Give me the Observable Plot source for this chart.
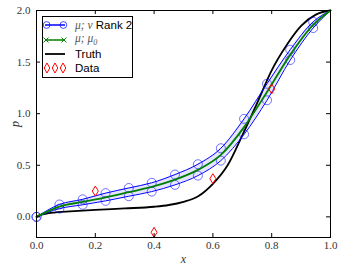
<!DOCTYPE html>
<html><head><meta charset="utf-8">
<script src="https://cdn.jsdelivr.net/npm/d3@7"></script>
<script src="https://cdn.jsdelivr.net/npm/@observablehq/plot@0.6"></script>
<style>
body{margin:0;background:#fff}
#wrap{position:relative;width:341px;height:270px}
#legend{position:absolute;left:42px;top:16px;width:91px;height:62px;border:1px solid #000;background:#fff;box-sizing:border-box;font-family:"Liberation Sans",Arial,sans-serif;font-size:11.5px;color:#000}
.row{position:absolute;left:0;height:14px;display:flex;align-items:center}
.row svg{margin-left:0}
.row span.t{margin-left:6px;white-space:nowrap}
.m{font-family:"Liberation Serif",serif;font-style:italic;color:#555}
</style>
</head><body><div id="wrap"></div>
<script>
// marker positions for the rank-2 band and mean
const xs = [0, 0.078, 0.157, 0.235, 0.314, 0.392, 0.471, 0.549, 0.627, 0.706, 0.784, 0.863, 0.941, 1.0];
const upper = [0, 0.12, 0.17, 0.23, 0.28, 0.33, 0.41, 0.51, 0.665, 0.95, 1.29, 1.62, 1.89, 2.0];
const lower = [0, 0.08, 0.117, 0.155, 0.20, 0.245, 0.31, 0.40, 0.545, 0.80, 1.13, 1.52, 1.83, 2.0];
const mean  = [0, 0.10, 0.145, 0.19, 0.24, 0.29, 0.36, 0.455, 0.60, 0.87, 1.21, 1.57, 1.86, 2.0];
// truth curve
const truthX = [0, 0.01, 0.03, 0.06, 0.1, 0.2, 0.3, 0.4, 0.45, 0.5, 0.55, 0.6, 0.65, 0.7, 0.75, 0.8, 0.85, 0.9, 0.95, 1.0];
const truthP = [0, 0.015, 0.03, 0.042, 0.05, 0.068, 0.082, 0.098, 0.115, 0.146, 0.2, 0.32, 0.5, 0.79, 1.1, 1.42, 1.66, 1.85, 1.96, 2.0];
// observed data
const dataX = [0.2, 0.4, 0.6, 0.8];
const dataP = [0.25, -0.15, 0.37, 1.24];
// ticks
const xTicks = [0.0, 0.2, 0.4, 0.6, 0.8, 1.0];
const yTicks = [0.0, 0.5, 1.0, 1.5, 2.0];

const band = xs.map((x, i) => ({x, lo: lower[i], hi: upper[i], m: mean[i]}));
const markers = band.slice(0, 13);
const truth = truthX.map((x, i) => ({x, p: truthP[i]}));
const obs = dataX.map((x, i) => ({x, p: dataP[i]}));

const thinDiamond = {draw(ctx, size) {
  const h = Math.sqrt(size / Math.PI), w = h * 0.6;
  ctx.moveTo(0, -h); ctx.lineTo(w, 0); ctx.lineTo(0, h); ctx.lineTo(-w, 0); ctx.closePath();
}};

const W = 341, H = 270, mL = 36, mR = 11, mT = 10, mB = 33;
const fw = W - mL - mR, fh = H - mT - mB;
const curve = "monotone-x";
const blue = "#0000ff";

const svg = Plot.plot({
  width: W, height: H,
  marginLeft: mL, marginRight: mR, marginTop: mT, marginBottom: mB,
  style: {fontFamily: "'Liberation Serif', serif", fontSize: "11px", color: "#000", background: "#fff"},
  x: {domain: [0, 1]},
  y: {domain: [-0.2, 2.0]},
  marks: [
    Plot.areaY(band, {x: "x", y1: "lo", y2: "hi", fill: blue, fillOpacity: 0.1, curve}),
    Plot.line(truth, {x: "x", y: "p", stroke: "#000", strokeWidth: 1.8, curve}),
    Plot.line(band, {x: "x", y: "hi", stroke: blue, strokeWidth: 1, curve}),
    Plot.line(band, {x: "x", y: "lo", stroke: blue, strokeWidth: 1, curve}),
    Plot.dot(markers, {x: "x", y: "hi", r: 4.5, stroke: blue, strokeOpacity: 0.55, strokeWidth: 1, fill: "none"}),
    Plot.dot(markers, {x: "x", y: "lo", r: 4.5, stroke: blue, strokeOpacity: 0.55, strokeWidth: 1, fill: "none"}),
    Plot.line(band, {x: "x", y: "m", stroke: "#008000", strokeWidth: 1.8, curve}),
    Plot.dot(obs, {x: "x", y: "p", r: 5, symbol: thinDiamond, stroke: "#ff0000", strokeWidth: 1, fill: "none"}),
    Plot.frame({stroke: "#000", strokeWidth: 1}),
    Plot.tickX(xTicks, {x: d => d, stroke: "#000", insetTop: fh - 4}),
    Plot.tickX(xTicks, {x: d => d, stroke: "#000", insetBottom: fh - 4}),
    Plot.tickY(yTicks, {y: d => d, stroke: "#000", insetRight: fw - 4}),
    Plot.tickY(yTicks, {y: d => d, stroke: "#000", insetLeft: fw - 4}),
    Plot.axisX({ticks: xTicks, tickSize: 0, tickPadding: 4, tickFormat: d3.format(".1f"), label: "x", labelAnchor: "center", labelArrow: "none", labelOffset: 25, fill: "#333"}),
    Plot.axisY({ticks: yTicks, tickSize: 0, tickPadding: 6, tickFormat: d3.format(".1f"), label: "p", labelAnchor: "center", labelArrow: "none", labelOffset: 26, fill: "#333"})
  ]
});
d3.select(svg).selectAll('[aria-label="x-axis label"] text, [aria-label="y-axis label"] text').style("font-style", "italic").style("font-size", "12px");

const wrap = document.getElementById("wrap");
wrap.appendChild(svg);

const legend = document.createElement("div");
legend.id = "legend";
const sw = (inner) => `<svg width="26" height="14" viewBox="0 0 26 14">${inner}</svg>`;
legend.innerHTML = `
<div class="row" style="top:1px">${sw(`<line x1="2" y1="7" x2="22" y2="7" stroke="${blue}" stroke-width="1.5"/><circle cx="3.6" cy="7" r="3.4" fill="none" stroke="${blue}" stroke-opacity="0.7"/><circle cx="20.4" cy="7" r="3.4" fill="none" stroke="${blue}" stroke-opacity="0.7"/>`)}<span class="t"><span class="m">μ; ν</span> Rank 2</span></div>
<div class="row" style="top:15.5px">${sw(`<line x1="2" y1="7" x2="22" y2="7" stroke="#008000" stroke-width="1.5"/><path d="M0.5,4.5L5.5,9.5M5.5,4.5L0.5,9.5M18.5,4.5L23.5,9.5M23.5,4.5L18.5,9.5" stroke="#008000" stroke-width="1"/>`)}<span class="t"><span class="m">μ; μ<sub style="font-size:8px">0</sub></span></span></div>
<div class="row" style="top:30px">${sw(`<line x1="2" y1="7" x2="22" y2="7" stroke="#000" stroke-width="1.8"/>`)}<span class="t">Truth</span></div>
<div class="row" style="top:44px">${sw(`<path d="M4,2L6.8,7L4,12L1.2,7Z M12,2L14.8,7L12,12L9.2,7Z M20,2L22.8,7L20,12L17.2,7Z" fill="none" stroke="#ff0000"/>`)}<span class="t">Data</span></div>`;
wrap.appendChild(legend);
</script>
</body></html>
